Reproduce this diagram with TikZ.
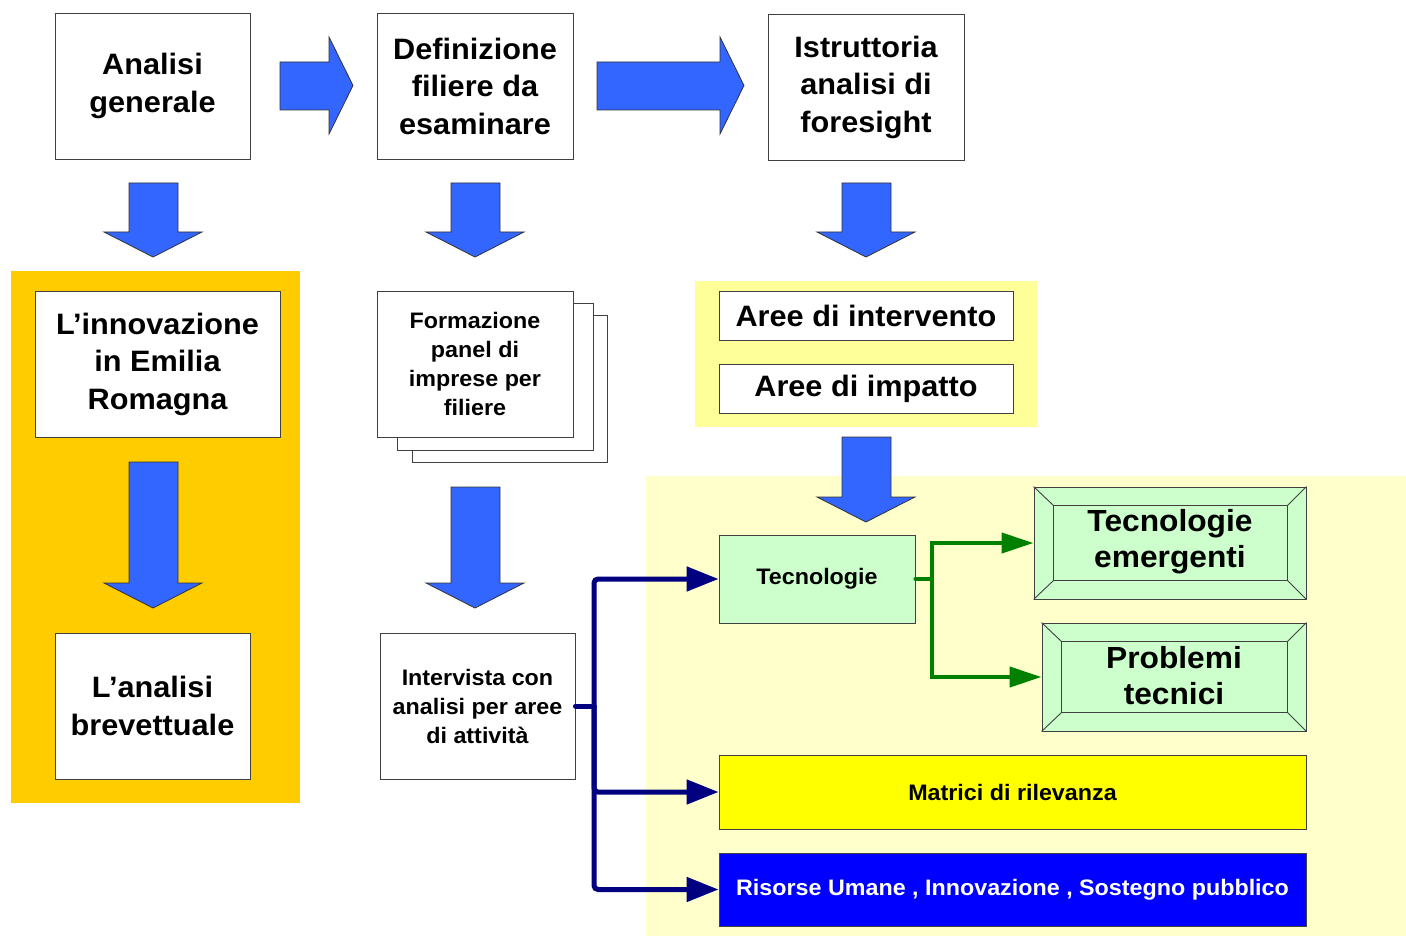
\documentclass[tikz,border=0pt]{standalone}
\usepackage{fontspec}
\setmainfont{Liberation Sans}[FakeStretch=1.04]
\usetikzlibrary{arrows.meta,calc}
\definecolor{arrowblue}{HTML}{3366FF}
\definecolor{orangepanel}{HTML}{FFCC00}
\definecolor{yellowpanel}{HTML}{FFFF99}
\definecolor{paleyellow}{HTML}{FFFFCC}
\definecolor{palegreen}{HTML}{CCFFCC}
\definecolor{brightyellow}{HTML}{FFFF00}
\definecolor{pureblue}{HTML}{0000FF}
\definecolor{navyline}{HTML}{000080}
\definecolor{greenline}{HTML}{008000}
\definecolor{boxborder}{HTML}{404040}
\begin{document}
\begin{tikzpicture}[x=1pt,y=-1pt,
  box/.style={draw=boxborder,line width=0.9pt,fill=white,rectangle,inner sep=0pt,align=center,font=\bfseries},
  bigtxt/.style={font=\fontsize{29.5}{37.5}\selectfont\bfseries},
  midtxt/.style={font=\fontsize{30.5}{36}\selectfont\bfseries},
  smalltxt/.style={font=\fontsize{22.4}{29}\selectfont\bfseries},
  blockarrow/.style={fill=arrowblue,draw=black!80,line width=0.8pt,line join=miter},
  navyconn/.style={draw=navyline,line width=5pt,rounded corners=4pt,line cap=round},
  greenconn/.style={draw=greenline,line width=4pt,line cap=round},
  navytip/.style={-{Triangle[length=32pt,width=24pt]}},
  greentip/.style={-{Triangle[length=32pt,width=20pt]}}
]
\useasboundingbox (0,0) rectangle (1406,936);
\fill[white] (0,0) rectangle (1406,936);

% panels
\fill[orangepanel] (11,271) rectangle (300,803);
\fill[yellowpanel] (695,281) rectangle (1037,427);
\fill[paleyellow] (646,476) rectangle (1406,936);

% top row
\node[box,bigtxt,minimum width=195pt,minimum height=146pt] (ana) at (152.5,86) {Analisi\\generale};
\node[box,bigtxt,minimum width=196pt,minimum height=146pt] (def) at (475,86) {Definizione\\filiere da\\esaminare};
\node[box,bigtxt,minimum width=196pt,minimum height=146pt] (ist) at (866,87) {Istruttoria\\analisi di\\foresight};

% right block arrows
\draw[blockarrow] (280,62) -- (329,62) -- (329,37) -- (353,85.5) -- (329,134) -- (329,110) -- (280,110) -- cycle;
\draw[blockarrow] (597,62) -- (720,62) -- (720,37) -- (744,85.5) -- (720,134) -- (720,110) -- (597,110) -- cycle;

% down block arrows
\draw[blockarrow] (129,183) -- (178,183) -- (178,232) -- (202,232) -- (153,257) -- (104,232) -- (129,232) -- cycle;
\draw[blockarrow] (451,183) -- (500,183) -- (500,232) -- (524,232) -- (475,257) -- (426,232) -- (451,232) -- cycle;
\draw[blockarrow] (842,183) -- (891,183) -- (891,232) -- (915,232) -- (866,257) -- (817,232) -- (842,232) -- cycle;
\draw[blockarrow] (129,462) -- (178,462) -- (178,583) -- (202,583) -- (153,608) -- (104,583) -- (129,583) -- cycle;
\draw[blockarrow] (451,487) -- (500,487) -- (500,583) -- (524,583) -- (475,608) -- (426,583) -- (451,583) -- cycle;
\draw[blockarrow] (842,437) -- (891,437) -- (891,497) -- (915,497) -- (866,522) -- (817,497) -- (842,497) -- cycle;

% left column
\node[box,bigtxt,minimum width=245pt,minimum height=146pt] (inn) at (157.5,364) {L’innovazione\\in Emilia\\Romagna};
\node[box,bigtxt,minimum width=195pt,minimum height=146pt] (bre) at (152.5,706) {L’analisi\\brevettuale};

% stacked document
\draw[draw=boxborder,line width=0.9pt,fill=white] (412,315) rectangle (607,462);
\draw[draw=boxborder,line width=0.9pt,fill=white] (397,303) rectangle (593,450);
\node[box,smalltxt,minimum width=196pt,minimum height=146pt] (for) at (475,364) {Formazione\\panel di\\imprese per\\filiere};

\node[box,smalltxt,minimum width=195pt,minimum height=146pt] (int) at (477.5,706) {Intervista con\\analisi per aree\\di attività};

% aree
\node[box,font=\fontsize{29.5}{34}\selectfont\bfseries,minimum width=294pt,minimum height=49pt] (are1) at (866,315.5) {Aree di intervento};
\node[box,font=\fontsize{29.5}{34}\selectfont\bfseries,minimum width=294pt,minimum height=49pt] (are2) at (866,388.5) {Aree di impatto};

% tecnologie
\node[box,smalltxt,fill=palegreen,minimum width=196pt,minimum height=88pt] (tec) at (817,579) {Tecnologie};

% bevel boxes
\node[box,fill=palegreen,minimum width=272pt,minimum height=112pt] (tem) at (1170,543) {};
\draw[draw=boxborder,line width=0.9pt] ($(tem.north west)+(20,19)$) rectangle ($(tem.south east)+(-19,-19)$);
\draw[draw=boxborder,line width=0.9pt] (tem.north west) -- ++(20,19) (tem.north east) -- ++(-19,19) (tem.south west) -- ++(20,-19) (tem.south east) -- ++(-19,-19);
\node[midtxt,align=center] at (1170,542) {Tecnologie\\emergenti};

\node[box,fill=palegreen,minimum width=264pt,minimum height=108pt] (pro) at (1174,677) {};
\draw[draw=boxborder,line width=0.9pt] ($(pro.north west)+(20,19)$) rectangle ($(pro.south east)+(-19,-19)$);
\draw[draw=boxborder,line width=0.9pt] (pro.north west) -- ++(20,19) (pro.north east) -- ++(-19,19) (pro.south west) -- ++(20,-19) (pro.south east) -- ++(-19,-19);
\node[midtxt,align=center] at (1174,676) {Problemi\\tecnici};

% bottom boxes
\node[box,smalltxt,fill=brightyellow,minimum width=587pt,minimum height=74pt] (mat) at (1012.5,792) {Matrici di rilevanza};
\node[box,smalltxt,fill=pureblue,text=white,minimum width=587pt,minimum height=73pt] (ris) at (1012.5,889.5) {Risorse Umane , Innovazione , Sostegno pubblico};

% navy connectors
\coordinate (nj) at (594,706);
\draw[navyconn] (int.east) -- (nj);
\draw[navyconn,navytip] (nj) |- (tec.west);
\draw[navyconn,navytip] (nj) |- (mat.west);
\draw[navyconn,navytip] (nj) |- (ris.west);

% green connectors
\coordinate (gj) at (932,579);
\draw[greenconn] (tec.east) -- (gj);
\draw[greenconn,greentip] (gj) |- (tem.west);
\draw[greenconn,greentip] (gj) |- (pro.west);
\end{tikzpicture}
\end{document}
